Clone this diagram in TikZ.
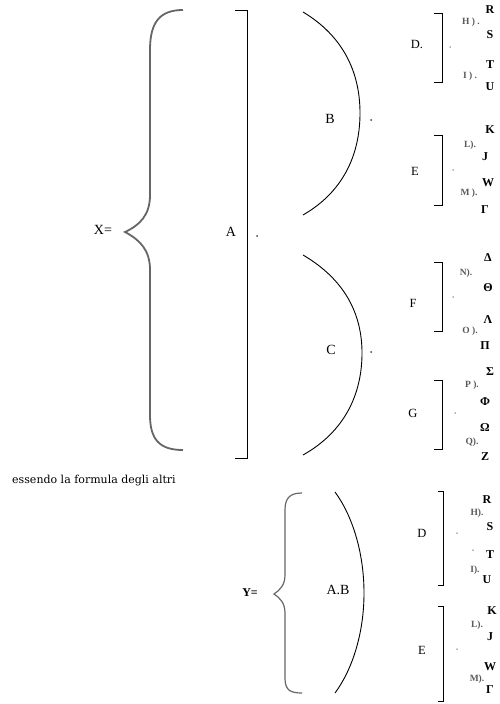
\documentclass[tikz,border=0pt]{standalone}
\usepackage{fontspec}
\setmainfont{Liberation Serif}
\newfontfamily\noteface{DejaVu Serif}
\usetikzlibrary{positioning}

\begin{document}
\begin{tikzpicture}[x=1pt, y=-1pt,
  big/.style={font=\fontsize{14}{14}\selectfont,inner sep=0pt},
  lbl/.style={font=\fontsize{12.5}{12.5}\selectfont,inner sep=0pt},
  ltr/.style={font=\bfseries\fontsize{12}{12}\selectfont,inner sep=0pt},
  sub/.style={font=\bfseries\fontsize{9.5}{9.5}\selectfont,text=black!65,inner sep=0pt},
  pt/.style={circle,fill=black!75,inner sep=0pt,minimum size=2pt},
  brc/.style={draw=black!60,line width=1.8pt},
  thinbrc/.style={draw=black!60,line width=1.2pt},
  par/.style={draw=black,line width=0.9pt},
  sq/.style={draw=black,line width=1pt}]
  \useasboundingbox (0,0) rectangle (500,704);

  % X brace
  \node[big] (X) at (103,230) {X=};
  \draw[brc] (183,10) .. controls (160,10) and (150,22) .. (150,50) -- (150,195)
    .. controls (150,215) and (140,225) .. (125,232)
    .. controls (140,240) and (150,250) .. (150,270) -- (150,415)
    .. controls (150,440) and (160,450) .. (183,450);
  % A bracket
  \draw[sq] (235,10) -- (247,10) -- (247,458) -- (235,458);
  \node[big] (A) at (231,232) {A};
  \node[pt] (dA) at (257,236) {};
  % B and C parentheses
  \draw[par] (303,12) .. controls (343,36) and (360,72) .. (360,113)
    .. controls (360,155) and (343,192) .. (303,215);
  \node[big] (B) at (330,119) {B};
  \node[pt] (dB) at (371,120) {};
  \draw[par] (303,255) .. controls (344,279) and (362,313) .. (362,353)
    .. controls (362,395) and (344,432) .. (303,455);
  \node[big] (C) at (331,350) {C};
  \node[pt] (dC) at (371,352) {};

  \node[font=\noteface\fontsize{11}{11}\selectfont,inner sep=0pt,anchor=west] (note) at (12,481) {essendo la formula degli altri};

  % Y brace
  \node[font=\bfseries\fontsize{12}{12}\selectfont,inner sep=0pt] (Y) at (250,593) {Y=};
  \draw[thinbrc] (302,493) .. controls (290,493) and (285,498) .. (285,510) -- (285,575)
    .. controls (285,585) and (280,590) .. (274,594)
    .. controls (280,598) and (285,603) .. (285,613) -- (285,678)
    .. controls (285,690) and (290,693) .. (302,693);
  \draw[par] (335,492) .. controls (352,515) and (364,552) .. (364,593)
    .. controls (364,634) and (352,670) .. (335,693);
  \node[big] (AB) at (338,590) {A.B};

  % small brackets
  \foreach \x/\ya/\yb/\w in {442/13/82/8, 442/135/205/8, 442/262/331/8, 442/380/449/8,
      443/491/585/5, 443/606/701/5} {
    \draw[sq] (\x-\w,\ya) -- (\x,\ya) -- (\x,\yb) -- (\x-\w,\yb);
  }
  \foreach \t/\x/\y/\nm in {D./417/44/lD, E/415/171/lE, F/413/303/lF, G/413/413/lG,
      D/422/533/lDb, E/422/650/lEb} {
    \node[lbl] (\nm) at (\x,\y) {\t};
  }
  \foreach \x/\y/\nm in {450/47/pD, 453/170/pE, 453/297/pF, 455/413/pG,
      457/533/pDb, 473/550/pT, 457/649/pEb} {
    \node[pt,minimum size=1.5pt,fill=black!60] (\nm) at (\x,\y) {};
  }
  % letters
  \foreach \t/\x/\y/\nm in {R/490/10/r1, S/490/35/s1, T/490/65/t1, U/490/87/u1,
      K/490/130/k1, J/485/157/j1, W/488/183/w1, Γ/485/210/g1,
      Δ/488/258/de, Θ/488/288/th, Λ/488/320/la, Π/485/346/pi,
      Σ/490/372/si, Φ/485/402/ph, Ω/485/428/om, Z/485/457/ze,
      R/487/500/r2, S/490/527/s2, T/490/555/t2, U/487/580/u2,
      K/492/611/k2, J/490/637/j2, W/490/667/w2, Γ/490/690/g2} {
    \node[ltr] (\nm) at (\x,\y) {\t};
  }
  \foreach \t/\x/\y/\nm in {H ) ./471/22/h1, I ) ./470/76/i1, L)./470/145/l1, M )./469/193/m1,
      N)./466/273/n1, O )./470/331/o1, P )./472/385/p1, Q)./472/442/q1,
      H)./477/513/h2, I)./475/570/i2, L)./477/625/l2, M)./477/679/m2} {
    \node[sub] (\nm) at (\x,\y) {\t};
  }
\end{tikzpicture}
\end{document}
